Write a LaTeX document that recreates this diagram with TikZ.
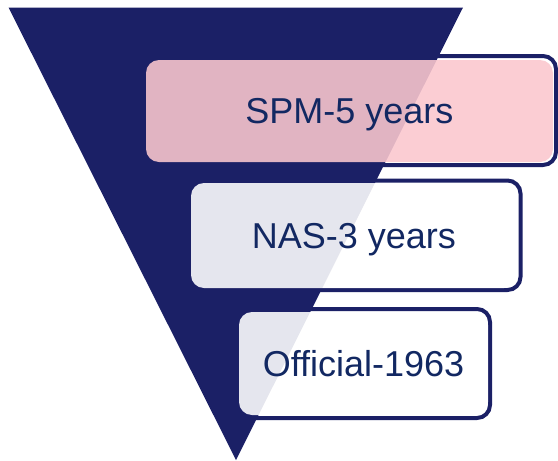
\documentclass[tikz,border=0pt]{standalone}
\usepackage{fontspec}
\setmainfont{Liberation Sans}
\usetikzlibrary{positioning}
\definecolor{funnelnavy}{RGB}{27,32,102}
\definecolor{labelblue}{RGB}{18,40,98}
\definecolor{boxpink}{RGB}{250,199,206}

\begin{document}
\begin{tikzpicture}[x=1pt, y=-1pt]

\tikzset{
  stage rim/.style={draw=funnelnavy, line width=4pt, rounded corners=13pt, inner sep=0pt},
  stage/.style={rounded corners=13pt, fill opacity=0.89, text opacity=1,
    text=labelblue, font=\fontsize{36}{40}\selectfont, inner sep=0pt, text depth=0pt}
}

\useasboundingbox (0,0) rectangle (558,461);

% funnel
\coordinate (funnel-left) at (8.5,7.5);
\coordinate (funnel-right) at (463,7.5);
\coordinate (funnel-tip) at (236,460);
\fill [funnelnavy] (funnel-left) -- (funnel-right) -- (funnel-tip) -- cycle;

% outlines behind the boxes
\foreach \i/\x/\y/\w/\h in {1/353/110.5/406/109, 2/357.75/235.25/325.5/109.5, 3/366.5/363.5/247/109}
  \node [stage rim, minimum width=\w, minimum height=\h] (rim-\i) at (\x,\y) {};

% boxes
\foreach \i/\x/\y/\w/\h/\c/\t in {1/349.5/111/407/102/boxpink/SPM-5 years,
    2/354/235.5/326/105/white/NAS-3 years,
    3/363.5/363.5/249/103/white/Official-1963}
  \node [stage, fill=\c, minimum width=\w, minimum height=\h] (stage-\i) at (\x,\y) {\t};

\end{tikzpicture}
\end{document}
